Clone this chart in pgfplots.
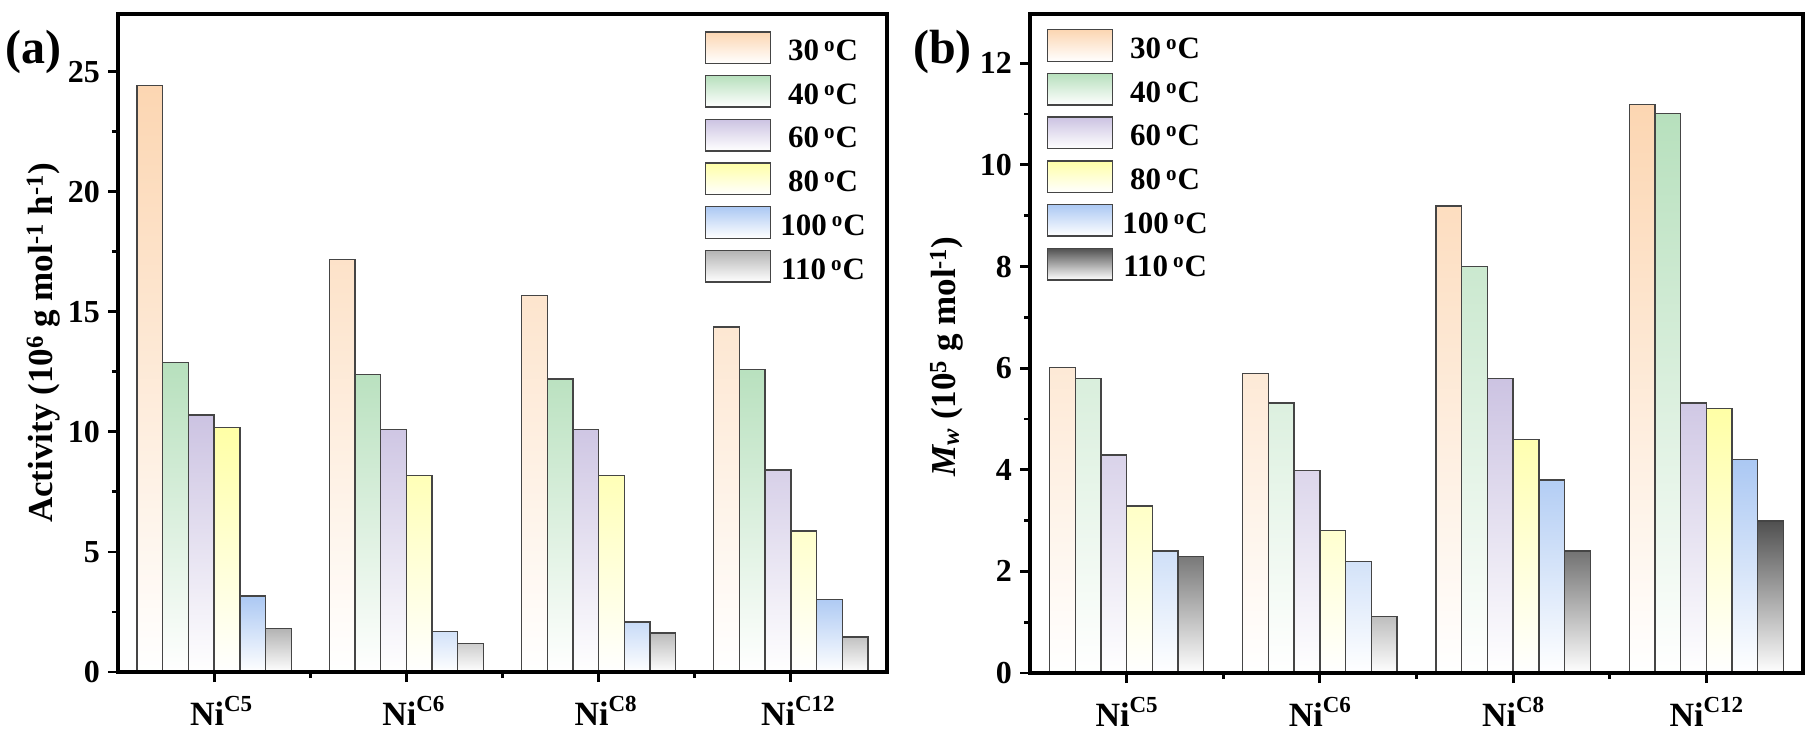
\documentclass[border=0pt]{standalone}
\usepackage{fontspec}
\setmainfont{Liberation Serif}
\usepackage{pgfplots}
\pgfplotsset{compat=1.18}
\definecolor{c30}{HTML}{FCD6B2}
\definecolor{c40}{HTML}{B7E0BD}
\definecolor{c60}{HTML}{CCC3E2}
\definecolor{c80}{HTML}{FFFFA6}
\definecolor{c100}{HTML}{ABC8F3}
\definecolor{c110a}{HTML}{B3B3B3}
\definecolor{c110b}{HTML}{505050}
\definecolor{edge}{HTML}{454545}
\newcommand{\NiC}[1]{Ni\raisebox{14pt}{\fontsize{23}{23}\selectfont #1}}
\newcommand{\degC}[1]{\raisebox{0pt}[27.35pt][5.65pt]{#1\kern5pt\raisebox{9pt}{\fontsize{21}{21}\selectfont o}\kern1pt C}}
\pgfplotsset{
  panel/.style={
    scale only axis, anchor=south west, axis on top,
    ybar=0pt, bar width=25.7pt,
    xmin=-0.5, xmax=3.5, ymin=0,
    xtick={0,1,2,3}, minor xtick={0.5,1.5,2.5},
    xticklabels={\NiC{C5},\NiC{C6},\NiC{C8},\NiC{C12}},
    tick pos=left, tick align=outside,
    major tick length=10pt, minor tick length=6pt,
    xtick style={black, line width=2.8pt}, ytick style={black, line width=2.8pt},
    axis line style={black, line width=3.4pt},
    minor y tick num=1,
    yticklabel style={font=\fontsize{32}{32}\selectfont\bfseries, inner sep=0pt, xshift=-8pt},
    xticklabel style={font=\fontsize{34}{34}\selectfont\bfseries, inner sep=0pt, anchor=base, yshift=-43pt},
    ylabel style={font=\fontsize{35}{35}\selectfont\bfseries, inner sep=0pt, anchor=base},
    legend style={draw=none, fill=none, inner sep=0pt, outer sep=0pt, row sep=10.7pt, column sep=9pt,
      font=\fontsize{31}{31}\selectfont\bfseries, nodes={inner sep=0pt}},
    legend cell align=center,
    /pgf/number format/assume math mode=true,
  },
  lb/.style={legend image code/.code={\draw[##1] (0pt,-15.8pt) rectangle (65pt,15.8pt);}},
  gb/.style={draw=edge, line width=1.4pt, top color=#1, middle color=#1!45!white, bottom color=white, lb},
}
\begin{document}
\begin{tikzpicture}[x=1pt,y=1pt]
\useasboundingbox (0,0) rectangle (1817,736);
\begin{axis}[panel, at={(118pt,64pt)}, width=769pt, height=658pt, ymax=27.4,
  ytick={0,5,10,15,20,25},
  xticklabel style={xshift=7pt},
  ylabel={Activity (10\textsuperscript{6} g mol\textsuperscript{-1} h\textsuperscript{-1})},
  ylabel style={at={(axis description cs:-0.0858,0.5)}},
  legend style={at={(axis description cs:0.7633,0.9739)}, anchor=north west}]
\addplot[gb=c30] coordinates {(0,24.43) (1,17.17) (2,15.69) (3,14.37)};
\addplot[gb=c40] coordinates {(0,12.89) (1,12.40) (2,12.20) (3,12.60)};
\addplot[gb=c60] coordinates {(0,10.71) (1,10.10) (2,10.10) (3,8.41)};
\addplot[gb=c80] coordinates {(0,10.18) (1,8.19) (2,8.19) (3,5.87)};
\addplot[gb=c100] coordinates {(0,3.17) (1,1.69) (2,2.09) (3,3.01)};
\addplot[gb=c110a] coordinates {(0,1.81) (1,1.18) (2,1.63) (3,1.46)};
\legend{\degC{30},\degC{40},\degC{60},\degC{80},\degC{100},\degC{110}}
\end{axis}
\begin{axis}[panel, at={(1030pt,63pt)}, width=773pt, height=659pt, ymax=12.97,
  ytick={0,2,4,6,8,10,12},
  ylabel={\textit{M\textsubscript{w}} (10\textsuperscript{5} g mol\textsuperscript{-1})},
  ylabel style={at={(axis description cs:-0.097,0.48)}},
  legend style={at={(axis description cs:0.022,0.9772)}, anchor=north west}]
\addplot[gb=c30] coordinates {(0,6.01) (1,5.89) (2,9.19) (3,11.19)};
\addplot[gb=c40] coordinates {(0,5.80) (1,5.31) (2,8.00) (3,11.01)};
\addplot[gb=c60] coordinates {(0,4.29) (1,3.99) (2,5.80) (3,5.31)};
\addplot[gb=c80] coordinates {(0,3.29) (1,2.80) (2,4.60) (3,5.20)};
\addplot[gb=c100] coordinates {(0,2.40) (1,2.20) (2,3.80) (3,4.20)};
\addplot[draw=edge, line width=1.4pt, top color=c110b, bottom color=white, lb] coordinates {(0,2.29) (1,1.11) (2,2.40) (3,2.99)};
\legend{\degC{30},\degC{40},\degC{60},\degC{80},\degC{100},\degC{110}}
\end{axis}
\node[anchor=base west, inner sep=0pt, font=\fontsize{48}{48}\selectfont\bfseries] at (5,672) {(a)};
\node[anchor=base west, inner sep=0pt, font=\fontsize{48}{48}\selectfont\bfseries] at (913,672) {(b)};
\end{tikzpicture}
\end{document}
